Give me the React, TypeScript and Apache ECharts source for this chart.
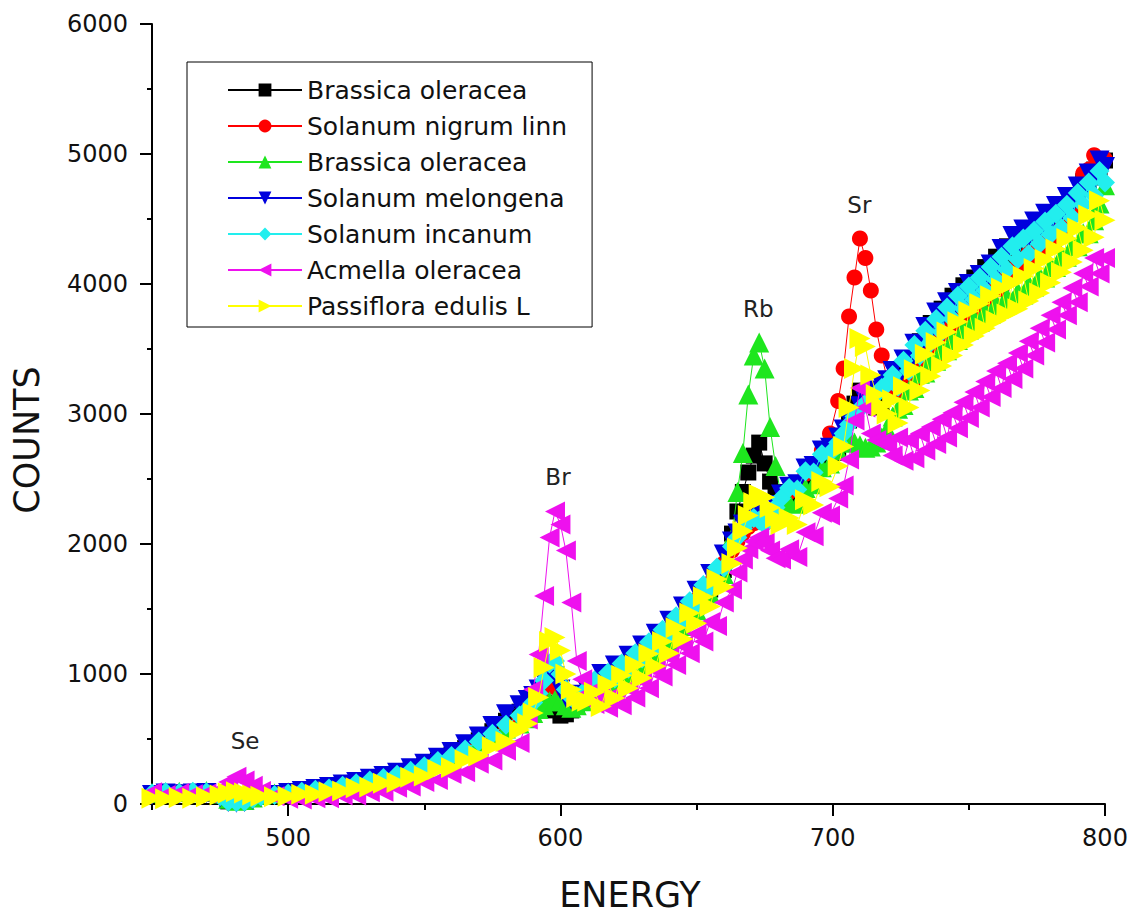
import React, { useEffect, useRef } from "react";
import * as echarts from "echarts";

// Energy channels (shared by every spectrum)
const energy = [
  450, 455, 460, 465, 470, 475, 478, 481, 484, 487, 490, 495, 500,
  505, 510, 515, 520, 525, 530, 535, 540, 545, 550, 555, 560, 565, 570, 575, 580, 585, 588,
  590, 592, 594, 596, 598, 600, 602, 604, 606, 608, 610,
  612.5, 615, 617.5, 620, 622.5, 625, 627.5, 630, 632.5, 635,
  637.5, 640, 642.5, 645, 647.5, 650, 652.5, 655, 657.5, 660,
  663, 665, 667, 669, 671, 673, 675, 677, 679, 681, 684, 687, 690, 693, 696, 699,
  702, 704, 706, 708, 710, 712, 714, 716, 718, 720,
  722, 724, 726, 728, 730, 732, 734, 736, 738, 740,
  742, 744, 746, 748, 750, 752, 754, 756, 758, 760,
  762, 764, 766, 768, 770, 772, 774, 776, 778, 780,
  782, 784, 786, 788, 790, 792, 794, 796, 798, 800,
];

const brassicaOleraceaA = [
  75, 85, 80, 90, 80, 55, 20, 15, 25, 45, 60, 70, 80,
  95, 105, 120, 140, 160, 180, 205, 230, 260, 295, 335, 380, 430, 490, 560, 640, 710, 740,
  740, 760, 780, 760, 720, 680, 690, 720, 760, 790, 820,
  910, 880, 970, 945, 1040, 1020, 1120, 1100, 1205, 1190,
  1300, 1290, 1405, 1400, 1520, 1520, 1645, 1650, 1780, 1800,
  2080, 2250, 2400, 2550, 2680, 2780, 2620, 2480, 2400, 2320, 2320, 2330, 2450, 2480, 2610, 2640,
  2700, 2820, 2950, 3080, 3180, 3150, 3080, 3050, 3080, 3150,
  3150, 3300, 3260, 3420, 3390, 3560, 3530, 3700, 3660, 3810,
  3760, 3910, 3850, 3990, 3920, 4050, 3990, 4130, 4070, 4210,
  4150, 4290, 4220, 4350, 4270, 4390, 4310, 4430, 4370, 4510,
  4450, 4590, 4530, 4660, 4630, 4790, 4740, 4880, 4820, 4950,
];

const solanumNigrum = [
  80, 85, 90, 85, 90, 70, 40, 30, 35, 50, 65, 75, 85,
  95, 110, 125, 140, 160, 180, 200, 225, 255, 290, 330, 370, 420, 470, 530, 600, 660, 700,
  740, 800, 880, 920, 900, 840, 800, 790, 800, 820, 850,
  840, 930, 900, 995, 970, 1070, 1050, 1150, 1135, 1240,
  1230, 1340, 1335, 1450, 1450, 1570, 1575, 1700, 1710, 1850,
  1950, 2020, 2080, 2130, 2160, 2170, 2160, 2200, 2260, 2320, 2400, 2420, 2540, 2580, 2720, 2850,
  3100, 3350, 3750, 4050, 4350, 4200, 3950, 3650, 3450, 3270,
  3170, 3250, 3180, 3310, 3250, 3390, 3340, 3490, 3440, 3590,
  3540, 3690, 3640, 3780, 3720, 3860, 3800, 3940, 3880, 4020,
  3960, 4100, 4040, 4180, 4110, 4240, 4180, 4320, 4260, 4400,
  4340, 4480, 4420, 4570, 4620, 4850, 4880, 4990, 4930, 4960,
];

const brassicaOleraceaB = [
  85, 90, 95, 90, 100, 80, 40, 25, 30, 50, 70, 80, 90,
  100, 115, 130, 145, 165, 185, 210, 235, 265, 300, 340, 385, 430, 480, 530, 580, 620, 660,
  700, 730, 760, 790, 800, 790, 760, 740, 760, 790, 830,
  880, 850, 940, 915, 1010, 990, 1090, 1070, 1175, 1160,
  1270, 1260, 1375, 1370, 1490, 1490, 1615, 1620, 1750, 1770,
  2050, 2400, 2700, 3150, 3450, 3550, 3350, 2900, 2600, 2380, 2320, 2310, 2430, 2460, 2590, 2620,
  2720, 2780, 2800, 2780, 2760, 2740, 2750, 2780, 2820, 2880,
  2980, 3040, 3070, 3180, 3200, 3310, 3320, 3420, 3410, 3500,
  3490, 3580, 3570, 3660, 3650, 3730, 3710, 3790, 3770, 3850,
  3830, 3900, 3870, 3940, 3920, 4000, 3980, 4060, 4050, 4140,
  4130, 4220, 4210, 4300, 4290, 4390, 4390, 4490, 4620, 4760,
];

const solanumMelongena = [
  70, 80, 75, 80, 85, 50, 15, 10, 15, 35, 55, 70, 85,
  100, 115, 130, 150, 170, 195, 215, 240, 275, 310, 355, 400, 460, 520, 600, 690, 760, 800,
  830, 880, 950, 1000, 980, 880, 820, 800, 820, 840, 870,
  890, 1000, 950, 1065, 1020, 1140, 1100, 1220, 1185, 1310,
  1280, 1410, 1385, 1520, 1500, 1640, 1625, 1770, 1760, 1920,
  2020, 2080, 2150, 2200, 2230, 2200, 2180, 2220, 2300, 2380, 2440, 2460, 2580, 2600, 2720, 2740,
  2820, 2880, 2950, 3000, 3060, 3100, 3140, 3180, 3220, 3260,
  3330, 3270, 3420, 3370, 3540, 3510, 3670, 3630, 3780, 3730,
  3860, 3790, 3930, 3870, 4000, 3930, 4070, 4010, 4150, 4100,
  4270, 4250, 4370, 4300, 4420, 4350, 4480, 4410, 4540, 4470,
  4600, 4530, 4670, 4610, 4750, 4700, 4850, 4800, 4950, 4900,
];

const solanumIncanum = [
  80, 90, 85, 95, 90, 60, 20, 15, 20, 40, 60, 70, 80,
  95, 110, 120, 140, 160, 180, 200, 225, 255, 290, 330, 370, 420, 480, 540, 610, 680, 730,
  780, 850, 950, 1080, 1100, 1000, 880, 820, 830, 850, 880,
  950, 900, 1010, 965, 1080, 1040, 1160, 1120, 1245, 1210,
  1340, 1310, 1445, 1420, 1560, 1540, 1685, 1670, 1820, 1820,
  1980, 2050, 2120, 2180, 2200, 2180, 2150, 2200, 2280, 2350, 2430, 2420, 2560, 2550, 2690, 2700,
  2780, 2850, 2920, 2980, 3040, 3080, 3120, 3150, 3200, 3230,
  3300, 3210, 3410, 3330, 3530, 3450, 3640, 3550, 3730, 3630,
  3820, 3730, 3910, 3810, 3980, 3880, 4050, 3950, 4130, 4030,
  4210, 4110, 4290, 4190, 4350, 4230, 4410, 4310, 4480, 4380,
  4540, 4430, 4610, 4510, 4700, 4610, 4780, 4680, 4870, 4780,
];

const acmellaOleracea = [
  90, 70, 85, 75, 80, 110, 170, 210, 180, 140, 100, 60, 40,
  35, 45, 45, 65, 65, 90, 95, 125, 135, 170, 185, 230, 245, 310, 335, 410, 470, 650,
  880, 1150, 1600, 2050, 2250, 2150, 1950, 1550, 1100, 960, 850,
  770, 850, 740, 840, 760, 890, 820, 950, 890, 1030,
  980, 1130, 1070, 1220, 1160, 1310, 1250, 1400, 1370, 1550,
  1650, 1780, 1880, 1960, 2020, 2050, 2010, 1950, 1890, 1880, 1960, 1900, 2090, 2060, 2240, 2220,
  2350, 2450, 2650, 2950, 3200, 3050, 2850, 2800, 2780, 2770,
  2680, 2820, 2640, 2800, 2660, 2850, 2720, 2900, 2770, 2960,
  2820, 3010, 2890, 3090, 2970, 3170, 3050, 3250, 3130, 3330,
  3200, 3390, 3270, 3470, 3350, 3560, 3450, 3660, 3550, 3760,
  3650, 3860, 3760, 3970, 3860, 4080, 3980, 4200, 4080, 4200,
];

const passifloraEdulis = [
  45, 40, 50, 45, 55, 70, 85, 95, 85, 70, 60, 55, 60,
  75, 75, 95, 100, 125, 130, 160, 165, 205, 215, 265, 280, 340, 370, 440, 480, 570, 620,
  700, 820, 1050, 1250, 1280, 1180, 1000, 880, 820, 790, 790,
  860, 750, 920, 815, 990, 890, 1070, 970, 1155, 1060,
  1250, 1160, 1355, 1270, 1470, 1390, 1595, 1520, 1730, 1670,
  1850, 1970, 2100, 2220, 2320, 2380, 2360, 2280, 2200, 2150, 2200, 2150, 2340, 2300, 2480, 2440,
  2600, 2750, 3050, 3350, 3580, 3520, 3300, 3150, 3060, 3000,
  3110, 2930, 3210, 3050, 3340, 3180, 3460, 3290, 3550, 3370,
  3630, 3450, 3710, 3530, 3790, 3600, 3850, 3660, 3910, 3720,
  3970, 3770, 4010, 3810, 4060, 3870, 4120, 3930, 4190, 4010,
  4270, 4090, 4350, 4170, 4430, 4260, 4530, 4360, 4640, 4490,
];

const seriesNames = [
  "Brassica oleracea",
  "Solanum nigrum linn",
  "Brassica oleracea ",
  "Solanum melongena",
  "Solanum incanum",
  "Acmella oleracea",
  "Passiflora edulis L",
];
const seriesValues = [
  brassicaOleraceaA,
  solanumNigrum,
  brassicaOleraceaB,
  solanumMelongena,
  solanumIncanum,
  acmellaOleracea,
  passifloraEdulis,
];

// Peak annotations
const peakNames = ["Se", "Br", "Rb", "Sr"];
const peakEnergy = [484.2, 599.1, 672.7, 709.8];
const peakCounts = [485, 2515, 3808, 4608];

const xMajorTicks = [500, 600, 700, 800];

const FONT = "'DejaVu Sans', 'Liberation Sans', sans-serif";

const styles = [
  { color: "#000000", symbol: "rect", rotate: 0, size: 16 },
  { color: "#ff0000", symbol: "circle", rotate: 0, size: 16 },
  { color: "#1ee61e", symbol: "triangle", rotate: 0, size: 20 },
  { color: "#0000dd", symbol: "triangle", rotate: 180, size: 20 },
  { color: "#22eeee", symbol: "diamond", rotate: 0, size: 20 },
  { color: "#ee11ee", symbol: "triangle", rotate: 90, size: 20 },
  { color: "#ffff00", symbol: "triangle", rotate: -90, size: 21 },
];

export default function App() {
  const ref = useRef<HTMLDivElement>(null);

  useEffect(() => {
    if (!ref.current) return;
    const chart = echarts.init(ref.current, null, { renderer: "svg" });

    const series: any[] = seriesNames.map((name, i) => ({
      name,
      type: "line",
      data: energy.map((e, k) => [e, seriesValues[i][k]]),
      symbol: styles[i].symbol,
      symbolRotate: styles[i].rotate,
      symbolSize: styles[i].size,
      showAllSymbol: true,
      lineStyle: { color: styles[i].color, width: 1 },
      itemStyle: { color: styles[i].color },
      emphasis: { disabled: true },
      z: 2 + i,
    }));

    const option: any = {
      animation: false,
      backgroundColor: "#ffffff",
      grid: { left: 152, right: 33, top: 24, bottom: 110, containLabel: false },
      legend: {
        data: seriesNames,
        orient: "vertical",
        left: 187,
        top: 62,
        padding: [15, 25, 8, 40],
        itemGap: 10,
        itemWidth: 74,
        itemHeight: 16,
        borderColor: "#000",
        borderWidth: 1,
        backgroundColor: "#fff",
        selectedMode: false,
        textStyle: { fontFamily: FONT, fontSize: 25, color: "#111", lineHeight: 26 },
        z: 20,
      },
      xAxis: [
        {
          type: "value",
          min: 450,
          max: 800,
          interval: 50,
          axisLine: { show: true, onZero: false, lineStyle: { color: "#000", width: 2 } },
          axisTick: { show: true, length: 6, lineStyle: { color: "#000", width: 2 } },
          axisLabel: {
            fontFamily: FONT,
            fontSize: 24,
            color: "#111",
            margin: 22,
            formatter: (v: number) => (xMajorTicks.indexOf(v) >= 0 ? String(v) : ""),
          },
          splitLine: { show: false },
        },
        {
          type: "value",
          min: 450,
          max: 800,
          position: "bottom",
          axisLine: { show: false, onZero: false },
          axisTick: { show: true, length: 12, customValues: xMajorTicks, lineStyle: { color: "#000", width: 2 } },
          axisLabel: { show: false },
          splitLine: { show: false },
        },
      ],
      yAxis: {
        type: "value",
        min: 0,
        max: 6000,
        interval: 1000,
        axisLine: { show: true, onZero: false, lineStyle: { color: "#000", width: 2 } },
        axisTick: { show: true, length: 12, lineStyle: { color: "#000", width: 2 } },
        minorTick: { show: true, splitNumber: 2, length: 5, lineStyle: { color: "#000", width: 2 } },
        minorSplitLine: { show: false },
        axisLabel: {
          fontFamily: FONT,
          fontSize: 24,
          color: "#111",
          margin: 24,
          formatter: (v: number) => String(v),
        },
        splitLine: { show: false },
      },
      series,
    };

    chart.setOption(option);

    const peakTexts = peakNames.map((name, i) => {
      const p = chart.convertToPixel({ xAxisIndex: 0, yAxisIndex: 0 }, [peakEnergy[i], peakCounts[i]]) as number[];
      return {
        type: "text",
        x: p[0],
        y: p[1],
        z: 30,
        style: {
          text: name,
          fontFamily: FONT,
          fontSize: 23,
          fill: "#222",
          align: "center",
          verticalAlign: "middle",
        },
      };
    });

    chart.setOption({
      graphic: {
        elements: [
          ...peakTexts,
          {
            type: "text",
            x: 630,
            y: 895,
            style: {
              text: "ENERGY",
              fontFamily: FONT,
              fontSize: 35,
              fill: "#111",
              align: "center",
              verticalAlign: "middle",
            },
          },
          {
            type: "text",
            x: 27,
            y: 440,
            rotation: Math.PI / 2,
            style: {
              text: "COUNTS",
              fontFamily: FONT,
              fontSize: 35,
              fill: "#111",
              align: "center",
              verticalAlign: "middle",
            },
          },
        ],
      },
    });

    return () => chart.dispose();
  }, []);

  return (
    <div
      ref={ref}
      style={{ position: "fixed", left: 0, top: 0, width: 1138, height: 914 }}
    />
  );
}
